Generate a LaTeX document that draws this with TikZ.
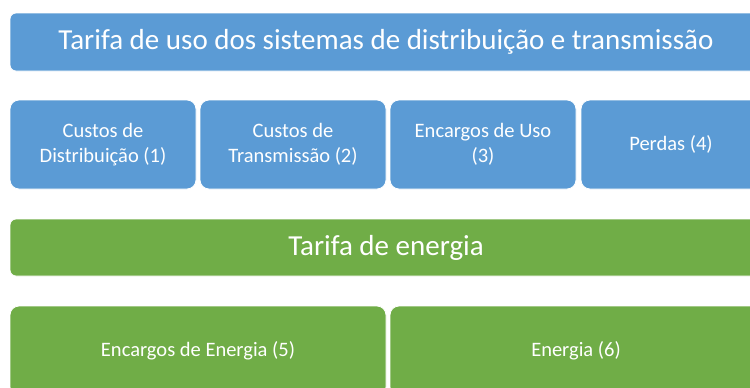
\documentclass[tikz,border=0pt]{standalone}
\usepackage{fontspec}
\setmainfont{Carlito}
\usepackage{xcolor}
\usepackage{tikz}
\usetikzlibrary{positioning}
\definecolor{usoblue}{HTML}{5B9BD5}
\definecolor{enggreen}{HTML}{70AD47}
\tikzset{
  banner/.style = {rectangle, rounded corners=6pt, fill=#1, draw=white, line width=0.8pt,
                   text=white, inner sep=0pt, outer sep=0pt, minimum width=752pt,
                   font=\fontsize{29}{34}\selectfont},
  part/.style   = {rectangle, rounded corners=9pt, fill=#1, draw=white, line width=0.8pt,
                   text=white, inner sep=0pt, outer sep=0pt, align=center,
                   font=\fontsize{20.5}{25.5}\selectfont},
}

\begin{document}
\begin{tikzpicture}[x=1pt, y=-1pt, node distance=4pt]
  \clip (0,0) rectangle (750,388);
  \fill[white] (0,0) rectangle (750,388);
  % rede
  \node[banner=usoblue, minimum height=58pt] (tusd) at (386,42)
    {Tarifa de uso dos sistemas de distribuição e transmissão};
  \node[part=usoblue, minimum width=186pt, minimum height=89pt] (dist) at (103,144.5)
    {Custos de\\Distribuição (1)};
  \node[part=usoblue, minimum width=186pt, minimum height=89pt, right=of dist] (trans)
    {Custos de\\Transmissão (2)};
  \node[part=usoblue, minimum width=186pt, minimum height=89pt, right=of trans] (encuso)
    {Encargos de Uso\\(3)};
  \node[part=usoblue, minimum width=180pt, minimum height=89pt, right=5pt of encuso] (perdas)
    {Perdas (4)};
  % energia
  \node[banner=enggreen, minimum height=57pt] (te) at (386,247.5) {Tarifa de energia};
  \node[part=enggreen, minimum width=376pt, minimum height=90pt] (encen) at (198,351)
    {Encargos de Energia (5)};
  \node[part=enggreen, minimum width=372pt, minimum height=90pt, right=of encen] (energia)
    {Energia (6)};
\end{tikzpicture}
\end{document}
